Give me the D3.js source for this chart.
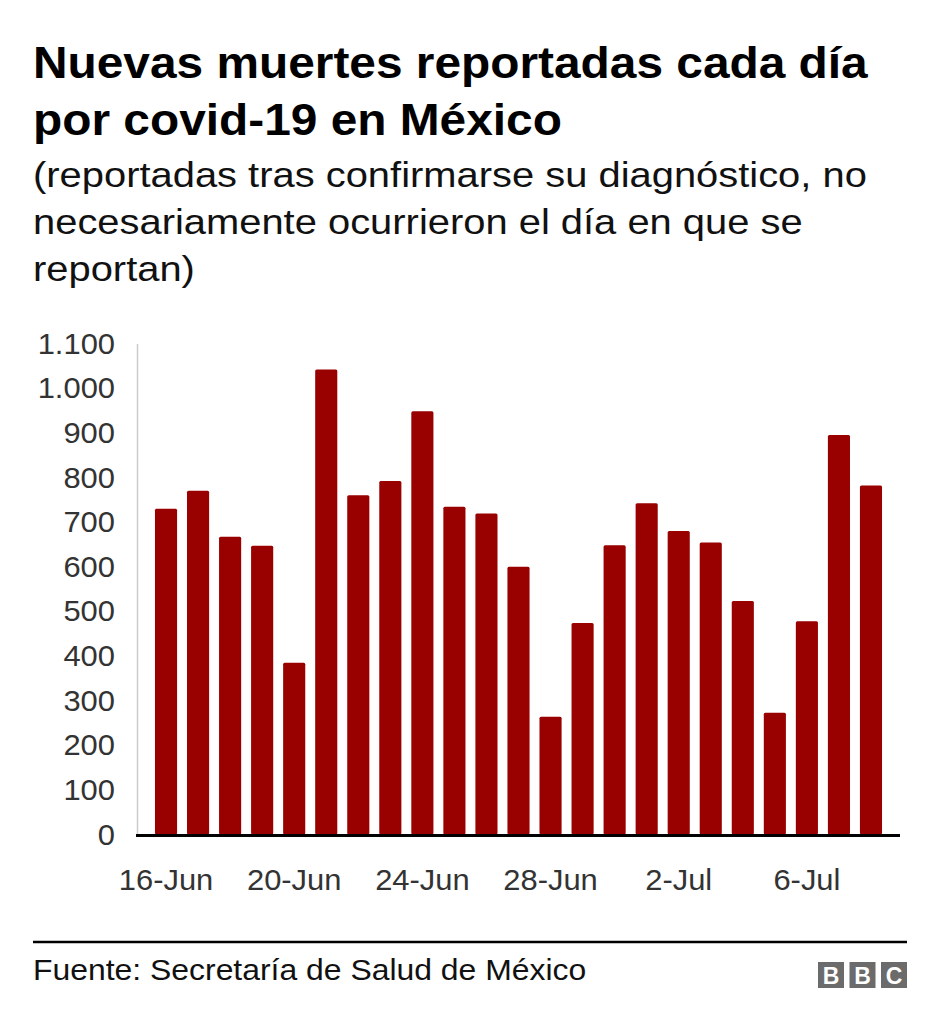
<!DOCTYPE html>
<html>
<head>
<meta charset="utf-8">
<script src="https://cdn.jsdelivr.net/npm/d3@7"></script>
<style>
  html, body { margin: 0; padding: 0; background: #fff; }
  svg { display: block; font-family: "Liberation Sans", Arial, Helvetica, sans-serif; }
</style>
</head>
<body>
<svg id="chart" width="940" height="1030"></svg>
<script>
// ---- Data ----
const categories = ["16-Jun","17-Jun","18-Jun","19-Jun","20-Jun","21-Jun","22-Jun","23-Jun","24-Jun","25-Jun","26-Jun","27-Jun","28-Jun","29-Jun","30-Jun","1-Jul","2-Jul","3-Jul","4-Jul","5-Jul","6-Jul","7-Jul","8-Jul"];
const deaths = [730, 770, 667, 647, 385, 1042, 760, 792, 948, 734, 719, 600, 264, 474, 648, 742, 680, 654, 523, 273, 478, 895, 782];
const xTickLabels = ["16-Jun","20-Jun","24-Jun","28-Jun","2-Jul","6-Jul"];
const yTicks = [0,100,200,300,400,500,600,700,800,900,1000,1100];
const titleLines = ["Nuevas muertes reportadas cada día", "por covid-19 en México"];
const subtitleLines = ["(reportadas tras confirmarse su diagnóstico, no", "necesariamente ocurrieron el día en que se", "reportan)"];
const sourceText = "Fuente: Secretaría de Salud de México";

const svg = d3.select("#chart");
const barColor = "#990000";

// Helper: horizontally widen text to mimic the reference's wider glyph rendering
function widen(sel, factor) {
  sel.each(function() {
    const w = this.getComputedTextLength();
    d3.select(this).attr("textLength", w * factor).attr("lengthAdjust", "spacingAndGlyphs");
  });
}

// Title
const title = svg.append("g").selectAll("text").data(titleLines).join("text")
  .attr("x", 33).attr("y", (d,i) => 78 + i*57)
  .attr("font-size", 44).attr("font-weight", "bold").attr("fill", "#000")
  .text(d => d);
widen(title, 1.087);

// Subtitle
const sub = svg.append("g").selectAll("text").data(subtitleLines).join("text")
  .attr("x", 33).attr("y", (d,i) => 187 + i*47)
  .attr("font-size", 35).attr("fill", "#111")
  .text(d => d);
widen(sub, 1.14);

// Scales
const x = d3.scaleBand().domain(categories).range([150, 887]).paddingInner(0.31).paddingOuter(0.155);
const y = d3.scaleLinear().domain([0, 1100]).range([834.5, 343.5]);

const fmt = d3.formatLocale({decimal: ",", thousands: ".", grouping: [3], currency: ["$", ""]}).format(",d");

// Y axis
const yAxis = svg.append("g").attr("transform", "translate(137,0)")
  .call(d3.axisLeft(y).tickValues(yTicks).tickFormat(fmt).tickSize(0).tickPadding(22));
yAxis.select(".domain").attr("stroke", "#cccccc").attr("stroke-width", 1.5);
yAxis.selectAll("text").attr("font-size", 30).attr("fill", "#333").attr("font-family", "Liberation Sans, Arial, sans-serif");
widen(yAxis.selectAll("text"), 1.03);

// Bars
svg.append("g").selectAll("rect").data(deaths).join("rect")
  .attr("x", (d,i) => x(categories[i]))
  .attr("width", x.bandwidth())
  .attr("y", d => y(d))
  .attr("height", d => y(0) - y(d))
  .attr("rx", 1.5)
  .attr("fill", barColor);

// X axis baseline + labels
const xAxis = svg.append("g").attr("transform", "translate(0,835.5)")
  .call(d3.axisBottom(x).tickValues(xTickLabels).tickSize(0).tickPadding(33).tickSizeOuter(0));
xAxis.select(".domain").remove();
xAxis.selectAll("text").attr("font-size", 30).attr("fill", "#333").attr("font-family", "Liberation Sans, Arial, sans-serif");
widen(xAxis.selectAll("text"), 1.03);
svg.append("line").attr("x1", 136).attr("x2", 900).attr("y1", 835.5).attr("y2", 835.5)
  .attr("stroke", "#000").attr("stroke-width", 3);

// Footer
svg.append("line").attr("x1", 33).attr("x2", 907).attr("y1", 942).attr("y2", 942)
  .attr("stroke", "#000").attr("stroke-width", 2.5);
const src = svg.append("text").attr("x", 33).attr("y", 980).attr("font-size", 29).attr("fill", "#111").text(sourceText);
widen(src, 1.1);

// BBC logo
const logo = svg.append("g").attr("transform", "translate(818,962)");
["B","B","C"].forEach((l, i) => {
  logo.append("rect").attr("x", i*31.5).attr("y", 0).attr("width", 26).attr("height", 26).attr("fill", "#6b6b6b");
  logo.append("text").attr("x", i*31.5 + 13).attr("y", 22).attr("text-anchor", "middle")
    .attr("font-size", 23).attr("font-weight", "bold").attr("fill", "#fff").text(l);
});
</script>
</body>
</html>
